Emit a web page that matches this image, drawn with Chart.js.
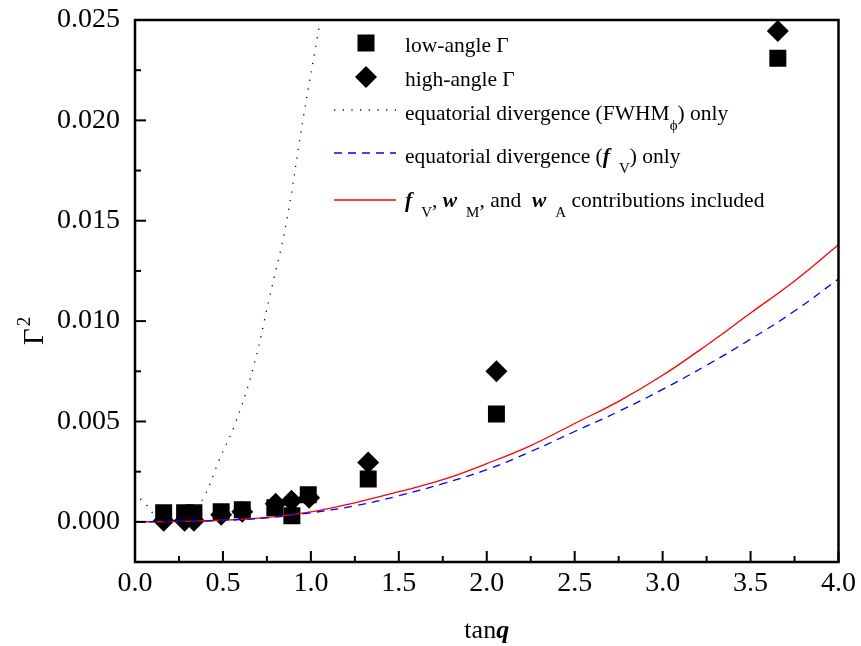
<!DOCTYPE html>
<html><head><meta charset="utf-8">
<script src="https://cdn.jsdelivr.net/npm/chart.js@4/dist/chart.umd.min.js"></script>
<style>html,body{margin:0;padding:0;background:#fff;}#wrap{width:861px;height:646px;}</style>
</head><body><div id="wrap"><canvas id="c" width="861" height="646"></canvas></div>
<script>
// ---- data ----
const lowAngleX = [0.163, 0.282, 0.335, 0.49, 0.61, 0.795, 0.892, 0.985, 1.326, 2.055, 3.655];
const lowAngleY = [0.00045, 0.00045, 0.00045, 0.0005, 0.0006, 0.0007, 0.0003, 0.00135, 0.00213, 0.00537, 0.0231];
const highAngleX = [0.163, 0.282, 0.335, 0.49, 0.61, 0.80, 0.89, 0.99, 1.326, 2.055, 3.655];
const highAngleY = [0.00005, 0.00005, 0.00005, 0.00035, 0.0005, 0.0009, 0.00105, 0.0012, 0.00296, 0.0075, 0.02445];

const fwhmX = [0.03, 0.06, 0.085, 0.13, 0.2, 0.27, 0.33, 0.39, 0.48, 0.57, 0.67, 0.76, 0.86, 0.96, 1.05, 1.07];
const fwhmY = [0.00115, 0.0009, 0.0006, 0.0002, 0.0000, 0.0002, 0.0006, 0.0012, 0.0031, 0.0049, 0.0076, 0.0110, 0.0149, 0.0203, 0.0248, 0.0258];

const curveX = [0, 0.25, 0.5, 0.75, 1.0, 1.25, 1.5, 1.75, 2.0, 2.25, 2.5, 2.75, 3.0, 3.25, 3.5, 3.75, 4.0];
const fvOnlyY = [0, 0.00002, 0.00007, 0.0002, 0.00045, 0.0008, 0.0013, 0.0019, 0.0026, 0.0035, 0.0045, 0.0055, 0.0066, 0.0078, 0.0091, 0.0105, 0.0121];
const allContribY = [0, 0.00002, 0.00008, 0.00022, 0.0005, 0.00095, 0.0015, 0.0021, 0.0029, 0.0038, 0.0049, 0.0060, 0.0073, 0.0088, 0.0104, 0.0120, 0.0138];

const xTicks = [0, 0.5, 1.0, 1.5, 2.0, 2.5, 3.0, 3.5, 4.0];
const xMinorTicks = [0.25, 0.75, 1.25, 1.75, 2.25, 2.75, 3.25, 3.75];
const yTicks = [0, 0.005, 0.010, 0.015, 0.020, 0.025];
const yMinorTicks = [0.0025, 0.0075, 0.0125, 0.0175, 0.0225];

const pts = (xs, ys) => xs.map((x, i) => ({x: x, y: ys[i]}));
const SERIF = "'Liberation Serif', 'Times New Roman', serif";

const frameTicks = {
  id: 'frameTicks',
  afterDraw(chart) {
    const {ctx, chartArea: a, scales: {x, y}} = chart;
    ctx.save();
    ctx.strokeStyle = '#000';
    ctx.lineWidth = 2;
    const tick = (px, py, dx, dy) => { ctx.beginPath(); ctx.moveTo(px, py); ctx.lineTo(px + dx, py + dy); ctx.stroke(); };
    xTicks.forEach(v => tick(x.getPixelForValue(v), a.bottom, 0, -11));
    xMinorTicks.forEach(v => tick(x.getPixelForValue(v), a.bottom, 0, -6));
    yTicks.forEach(v => tick(a.left, y.getPixelForValue(v), 11, 0));
    yMinorTicks.forEach(v => tick(a.left, y.getPixelForValue(v), 6, 0));
    ctx.lineWidth = 2.5;
    ctx.strokeRect(a.left, a.top, a.right - a.left, a.bottom - a.top);

    // axis titles
    ctx.fillStyle = '#000';
    ctx.textBaseline = 'alphabetic';
    const t1 = 'tan';
    ctx.font = '26px ' + SERIF; const w1 = ctx.measureText(t1).width;
    ctx.font = 'italic bold 26px ' + SERIF; const w2 = ctx.measureText('q').width;
    const cx = (a.left + a.right) / 2;
    let sx = cx - (w1 + w2) / 2;
    ctx.font = '26px ' + SERIF; ctx.textAlign = 'left';
    ctx.fillText(t1, sx, 638);
    ctx.font = 'italic bold 26px ' + SERIF;
    ctx.fillText('q', sx + w1, 638);
    // y title: Gamma^2 rotated
    ctx.save();
    ctx.translate(43, 345);
    ctx.rotate(-Math.PI / 2);
    ctx.font = '29px ' + SERIF;
    ctx.textAlign = 'left';
    ctx.fillText('Γ', 0, 0);
    const gw = ctx.measureText('Γ').width;
    ctx.font = '19px ' + SERIF;
    ctx.fillText('2', gw + 2, -13);
    ctx.restore();

    // legend
    const LX = 405;
    const F = '21.5px ' + SERIF, FB = 'italic bold 21.5px ' + SERIF, FS = '15px ' + SERIF;
    const drawSegs = (segs, x0, base) => {
      let xx = x0;
      segs.forEach(s => {
        ctx.font = s.f;
        ctx.fillText(s.t, xx, base + (s.dy || 0));
        xx += ctx.measureText(s.t).width + (s.gap || 0);
      });
    };
    ctx.textAlign = 'left';
    ctx.fillStyle = '#000';
    ctx.fillRect(366 - 8.5, 43 - 8.5, 17, 17);
    ctx.beginPath(); ctx.moveTo(366 - 11, 77); ctx.lineTo(366, 66); ctx.lineTo(366 + 11, 77); ctx.lineTo(366, 88); ctx.closePath(); ctx.fill();
    drawSegs([{t: 'low-angle Γ', f: F}], LX, 52);
    drawSegs([{t: 'high-angle Γ', f: F}], LX, 86);
    const sample = (yy, color, dash, lw) => { ctx.save(); ctx.strokeStyle = color; ctx.lineWidth = lw; ctx.setLineDash(dash); ctx.beginPath(); ctx.moveTo(334, yy); ctx.lineTo(396, yy); ctx.stroke(); ctx.restore(); };
    sample(110, '#000', [1.2, 7.5], 1.3);
    sample(153, '#0000ff', [8, 6], 1.3);
    sample(200, '#ff0000', [], 1.3);
    drawSegs([{t: 'equatorial divergence (FWHM', f: F}, {t: 'ϕ', f: FS, dy: 10}, {t: ') only', f: F}], LX, 120);
    drawSegs([{t: 'equatorial divergence (', f: F}, {t: 'f', f: FB, gap: 9}, {t: 'V', f: FS, dy: 10}, {t: ') only', f: F}], LX, 163);
    drawSegs([{t: 'f', f: FB, gap: 9}, {t: 'V', f: FS, dy: 10}, {t: ', ', f: F}, {t: 'w', f: FB, gap: 9}, {t: 'M', f: FS, dy: 10}, {t: ', and  ', f: F},
              {t: 'w', f: FB, gap: 9}, {t: 'A', f: FS, dy: 10}, {t: ' contributions included', f: F}], LX, 207);
    ctx.restore();
  }
};

new Chart(document.getElementById('c'), {
  type: 'scatter',
  data: {
    datasets: [
      {label: 'equatorial divergence (FWHM) only', data: pts(fwhmX, fwhmY), showLine: true, pointRadius: 0, borderColor: '#000', borderWidth: 1.3, borderDash: [1.2, 7.5], tension: 0.4, order: 0},
      {label: 'equatorial divergence (fV) only', data: pts(curveX, fvOnlyY), showLine: true, pointRadius: 0, borderColor: '#0000ff', borderWidth: 1.3, borderDash: [8, 6], tension: 0.4, order: 0},
      {label: 'fV, wM, and wA contributions included', data: pts(curveX, allContribY), showLine: true, pointRadius: 0, borderColor: '#ff0000', borderWidth: 1.3, tension: 0.4, order: 0},
      {label: 'low-angle Γ', data: pts(lowAngleX, lowAngleY), pointStyle: 'rect', pointRadius: 12, backgroundColor: '#000', borderColor: '#000', borderWidth: 0, order: 1},
      {label: 'high-angle Γ', data: pts(highAngleX, highAngleY), pointStyle: 'rectRot', pointRadius: 11, backgroundColor: '#000', borderColor: '#000', borderWidth: 0, order: 2}
    ]
  },
  options: {
    responsive: false,
    animation: false,
    events: [],
    layout: {padding: {left: 0, right: 16, top: 20, bottom: 0}},
    plugins: {legend: {display: false}, tooltip: {enabled: false}},
    scales: {
      x: {
        type: 'linear', min: 0, max: 4,
        afterBuildTicks: s => { s.ticks = xTicks.map(v => ({value: v})); },
        afterFit: s => { s.height = 84; },
        grid: {display: false, drawTicks: false},
        border: {display: false},
        ticks: {color: '#000', font: {family: SERIF, size: 28}, padding: 5, maxRotation: 0, autoSkip: false, callback: v => Number(v).toFixed(1)}
      },
      y: {
        type: 'linear', min: -0.002, max: 0.025,
        afterBuildTicks: s => { s.ticks = yTicks.map(v => ({value: v})); },
        afterFit: s => { s.width = 135; s.paddingTop = 0; s.paddingBottom = 0; },
        grid: {display: false, drawTicks: false},
        border: {display: false},
        ticks: {color: '#000', font: {family: SERIF, size: 28}, padding: 15, autoSkip: false, callback: v => Number(v).toFixed(3)}
      }
    }
  },
  plugins: [frameTicks]
});
</script>
</body></html>
